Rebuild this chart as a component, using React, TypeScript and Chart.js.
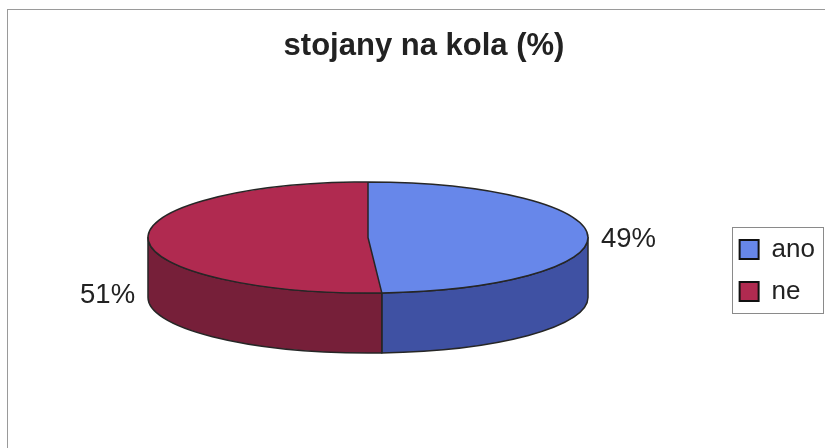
import React, { useEffect, useRef } from "react";
import { Chart, registerables } from "chart.js";

Chart.register(...registerables);

// ---- data ----
const TITLE = "stojany na kola (%)";
const CATEGORIES = ["ano", "ne"];
const VALUES = [49, 51];
const VALUE_LABELS = ["49%", "51%"];

// ---- styles ----
const TOP_COLORS = ["#6787EA", "#B02A50"];
const SIDE_COLORS = ["#3F51A3", "#761F39"];
const OUTLINE = "#262626";
const TEXT = "#222222";
const FONT = "'Liberation Sans', Arial, Helvetica, sans-serif";

// 3D projection of the pie
const CX = 368;
const CY = 237.5;
const RX = 220;
const RY = 55.5;
const DEPTH = 60;

const pie3d = {
  id: "pie3d",
  beforeDraw(chart: any) {
    const ctx = chart.ctx;
    ctx.save();
    ctx.strokeStyle = "#9a9a9a";
    ctx.lineWidth = 1;
    ctx.strokeRect(7.5, 9.5, 1200, 1200);
    ctx.restore();
  },
  afterDraw(chart: any) {
    const ctx = chart.ctx;
    const lg = chart.legend;
    if (!lg || !lg.legendHitBoxes || lg.legendHitBoxes.length < 2) return;
    const h0 = lg.legendHitBoxes[0];
    const h1 = lg.legendHitBoxes[lg.legendHitBoxes.length - 1];
    const left = Math.round(h0.left) - 7.5;
    const top = Math.round(h0.top) - 9.5;
    const bottom = Math.round(h1.top + h1.height) + 8.5;
    ctx.save();
    ctx.strokeStyle = "#8a8a8a";
    ctx.lineWidth = 1;
    ctx.strokeRect(left, top, 823.5 - left, bottom - top);
    ctx.restore();
  },
  beforeDatasetsDraw(chart: any) {
    const ctx = chart.ctx;
    const arcs = chart.getDatasetMeta(0).data as any[];
    chart.$pieSaved = false;
    if (!arcs.length) return;
    const k = RY / RX;
    ctx.save();
    ctx.lineWidth = 1.5;
    ctx.strokeStyle = OUTLINE;
    ctx.lineJoin = "round";
    arcs.forEach((arc, i) => {
      const p = arc.getProps(["startAngle", "endAngle", "outerRadius"], true);
      const ry = p.outerRadius * k;
      const s = Math.max(p.startAngle, 0);
      const e = Math.min(p.endAngle, Math.PI);
      if (e <= s) return;
      ctx.beginPath();
      ctx.ellipse(CX, CY, p.outerRadius, ry, 0, s, e);
      ctx.ellipse(CX, CY + DEPTH, p.outerRadius, ry, 0, e, s, true);
      ctx.closePath();
      ctx.fillStyle = SIDE_COLORS[i];
      ctx.fill();
      ctx.stroke();
    });
    ctx.restore();
    const { x, y } = arcs[0].getProps(["x", "y"], true);
    ctx.save();
    ctx.translate(CX, CY);
    ctx.scale(1, k);
    ctx.translate(-x, -y);
    chart.$pieSaved = true;
  },
  afterDatasetsDraw(chart: any) {
    const ctx = chart.ctx;
    const arcs = chart.getDatasetMeta(0).data as any[];
    if (!chart.$pieSaved) return;
    ctx.beginPath();
    arcs.forEach((arc) => {
      const p = arc.getProps(["x", "y", "startAngle", "endAngle", "outerRadius"], true);
      ctx.moveTo(p.x, p.y);
      ctx.arc(p.x, p.y, p.outerRadius, p.startAngle, p.endAngle);
      ctx.closePath();
    });
    ctx.restore();
    ctx.save();
    ctx.lineWidth = 1.5;
    ctx.strokeStyle = OUTLINE;
    ctx.lineJoin = "round";
    ctx.stroke();
    ctx.restore();

    // value labels
    const k = RY / RX;
    ctx.save();
    ctx.fillStyle = TEXT;
    ctx.font = `27.5px ${FONT}`;
    ctx.textBaseline = "alphabetic";
    arcs.forEach((arc, i) => {
      const p = arc.getProps(["startAngle", "endAngle", "outerRadius"], true);
      const mid = (p.startAngle + p.endAngle) / 2;
      const px = CX + p.outerRadius * Math.cos(mid);
      const py = CY + p.outerRadius * k * Math.sin(mid);
      if (Math.cos(mid) >= 0) {
        ctx.textAlign = "left";
        ctx.fillText(VALUE_LABELS[i], px + 13, py + 11);
      } else {
        ctx.textAlign = "right";
        ctx.fillText(VALUE_LABELS[i], px - 13, py + 64);
      }
    });
    ctx.restore();
  },
};

export default function App() {
  const ref = useRef<HTMLCanvasElement | null>(null);

  useEffect(() => {
    if (!ref.current) return;
    const chart = new Chart(ref.current, {
      type: "pie",
      data: {
        labels: CATEGORIES,
        datasets: [
          {
            data: VALUES,
            backgroundColor: TOP_COLORS,
            borderWidth: 0,
            radius: RX,
            clip: false as any,
          } as any,
        ],
      },
      options: {
        responsive: false,
        animation: false,
        devicePixelRatio: 1,
        layout: { padding: { left: 23, right: 0, top: 0, bottom: 0 } },
        events: [],
        plugins: {
          tooltip: { enabled: false },
          title: {
            display: true,
            text: TITLE,
            color: TEXT,
            font: { family: FONT, size: 31, weight: "bold" },
            padding: { top: 28, bottom: 28 },
          },
          legend: {
            display: true,
            position: "right",
            fullSize: false,
            labels: {
              boxWidth: 19,
              boxHeight: 19,
              padding: 16,
              color: TEXT,
              font: { family: FONT, size: 26 },
              generateLabels: () =>
                CATEGORIES.map((c, i) => ({
                  text: c,
                  fillStyle: TOP_COLORS[i],
                  strokeStyle: "#111111",
                  lineWidth: 2,
                  hidden: false,
                  index: i,
                  fontColor: TEXT,
                })),
            },
          },
        },
      } as any,
      plugins: [pie3d],
    });
    return () => chart.destroy();
  }, []);

  return (
    <div style={{ position: "absolute", left: 0, top: 0, width: 825, height: 448, background: "#fff" }}>
      <canvas ref={ref} width={825} height={448} style={{ display: "block", width: 825, height: 448 }} />
    </div>
  );
}
